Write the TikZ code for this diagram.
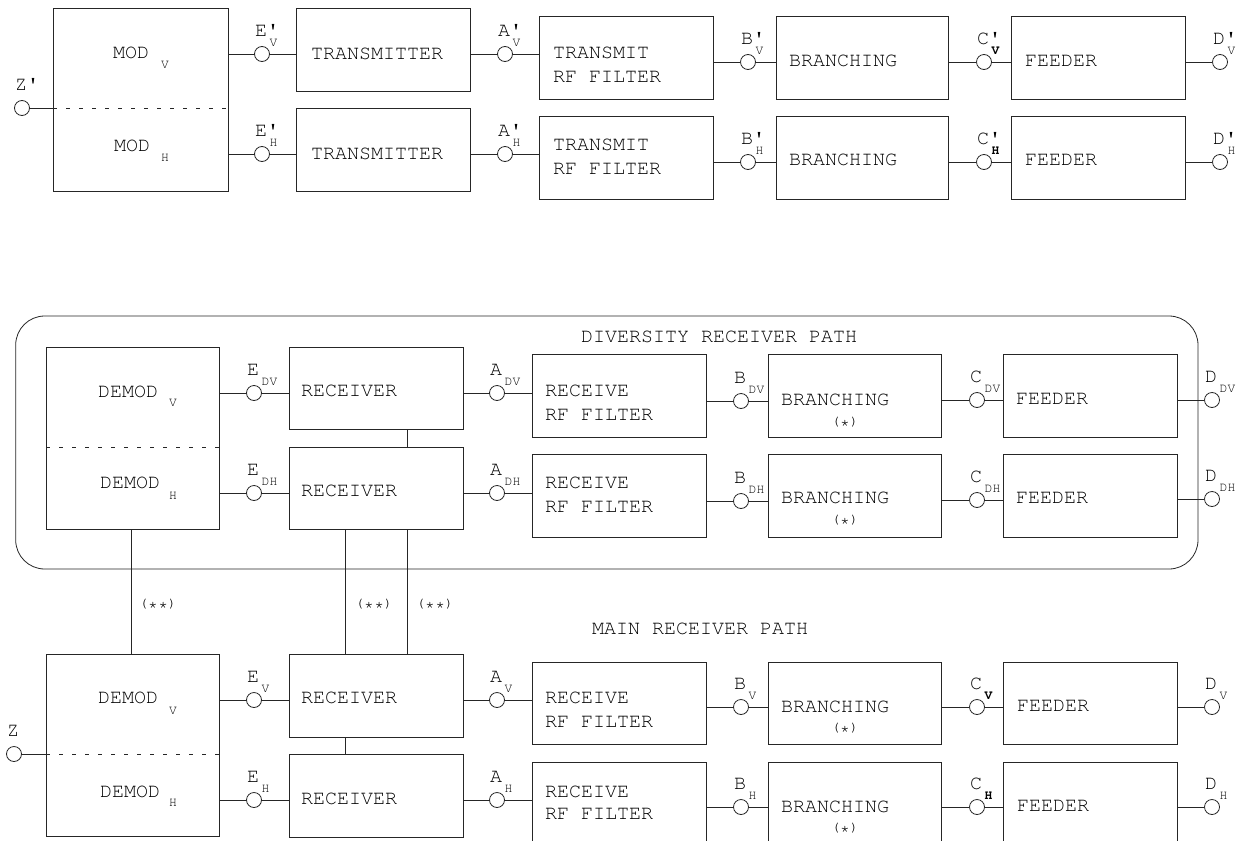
\documentclass[tikz,border=0pt]{standalone}
\usepackage[T1]{fontenc}
\usepackage{courier}
\renewcommand{\familydefault}{\ttdefault}
\usetikzlibrary{calc}
\tikzset{
  lw/.style={line width=0.8pt, draw=black!85},
  blk/.style={lw, rectangle, inner sep=0pt},
  cir/.style={lw, circle, minimum size=15pt, inner sep=0pt},
  txt/.style={inner sep=0pt, font=\fontsize{20}{24}\selectfont},
  subt/.style={inner sep=0pt, font=\fontsize{13}{15}\selectfont},
  startxt/.style={inner sep=0pt, font=\fontsize{14}{16}\selectfont},
  dashln/.style={lw, dash pattern=on 4pt off 9pt},
}
\newcommand{\lowstar}{\raisebox{-2.5pt}{\fontsize{17}{17}\selectfont *}}
\newcommand{\mkbox}[5]{\node[blk, anchor=north west, minimum width=#4pt, minimum height=#5pt] (#1) at (#2,#3) {};}
\newcommand{\cpt}[5]{%
  \node[cir] (#1) at (#2,#3) {};
  \node[txt, anchor=base west] (#1l) at (#2-7,#3-17.8) {#4};
  \node[subt, anchor=base west] (#1s) at (#2+7.5,#3-7.3) {#5};
}
\newcommand{\lnk}[3]{%
  \draw[lw] (#1.east |- #2) -- (#2.west);
  \draw[lw] (#2.east) -- (#3.west |- #2);
}
\begin{document}
\begin{tikzpicture}[x=1pt,y=-1pt]
\useasboundingbox (0,0) rectangle (1243,841);
\clip (0,0) rectangle (1243,841);

% ---------------- transmit side ----------------
\mkbox{bmodT}{53}{8}{175}{183}
\mkbox{btxV}{296}{8}{174}{83}
\mkbox{btxH}{296}{108}{174}{83}
\mkbox{btfV}{539}{16}{174}{83}
\mkbox{btfH}{539}{116}{174}{83}
\mkbox{bbrV}{776}{16}{172}{83}
\mkbox{bbrH}{776}{116}{172}{83}
\mkbox{bfdV}{1011}{16}{174}{83}
\mkbox{bfdH}{1011}{116}{174}{83}

\node[cir] (cZp) at (22,108) {};
\node[txt, anchor=base west] (cZpl) at (15,90.7) {Z\textquotesingle};
\cpt{cEpV}{262}{54}{E\textquotesingle}{V}
\cpt{cEpH}{262}{154}{E\textquotesingle}{H}
\cpt{cApV}{505}{54}{A\textquotesingle}{V}
\cpt{cApH}{505}{154}{A\textquotesingle}{H}
\cpt{cBpV}{748}{62}{B\textquotesingle}{V}
\cpt{cBpH}{748}{162}{B\textquotesingle}{H}
\cpt{cCpV}{984}{62}{C\textquotesingle}{\textbf{V}}
\cpt{cCpH}{984}{162}{C\textquotesingle}{\textbf{H}}
\cpt{cDpV}{1220}{62}{D\textquotesingle}{V}
\cpt{cDpH}{1220}{162}{D\textquotesingle}{H}

\draw[lw] (cZp.east) -- (bmodT.west |- cZp);
\draw[dashln] (bmodT.west |- cZp) -- ++(177,0);
\lnk{bmodT}{cEpV}{btxV}
\lnk{bmodT}{cEpH}{btxH}
\lnk{btxV}{cApV}{btfV}
\lnk{btxH}{cApH}{btfH}
\lnk{btfV}{cBpV}{bbrV}
\lnk{btfH}{cBpH}{bbrH}
\lnk{bbrV}{cCpV}{bfdV}
\lnk{bbrH}{cCpH}{bfdH}
\draw[lw] (bfdV.east |- cDpV) -- (cDpV.west);
\draw[lw] (bfdH.east |- cDpH) -- (cDpH.west);

\node[txt, anchor=base] (tMODV) at (131,58.2) {MOD};
\node[subt, anchor=base] (tMODVs) at (165,68.7) {V};
\node[txt, anchor=base] (tMODH) at (132,151.7) {MOD};
\node[subt, anchor=base] (tMODHs) at (165,161.2) {H};
\node[txt, anchor=base] (tTXV) at (377,59.7) {TRANSMITTER};
\node[txt, anchor=base] (tTXH) at (377,159.7) {TRANSMITTER};
\node[txt, anchor=base west] (tTFV1) at (553,58.7) {TRANSMIT};
\node[txt, anchor=base west] (tTFV2) at (553,82.2) {RF FILTER};
\node[txt, anchor=base west] (tTFH1) at (553,150.7) {TRANSMIT};
\node[txt, anchor=base west] (tTFH2) at (553,174.2) {RF FILTER};
\node[txt, anchor=base west] (tBRV) at (789,66.7) {BRANCHING};
\node[txt, anchor=base west] (tBRH) at (789,165.7) {BRANCHING};
\node[txt, anchor=base west] (tFDV) at (1025,66.7) {FEEDER};
\node[txt, anchor=base west] (tFDH) at (1025,165.7) {FEEDER};

% ---------------- diversity receiver path ----------------
\draw[lw, rounded corners=29pt] (15.7,316) rectangle (1198,569);
\node[txt, anchor=base] (tDIV) at (719,342.7) {DIVERSITY RECEIVER PATH};

\mkbox{bdemD}{46}{347}{173}{182}
\mkbox{brxDV}{289}{347}{174}{82}
\mkbox{brxDH}{289}{447}{174}{82}
\mkbox{brfDV}{532}{354}{174}{83}
\mkbox{brfDH}{532}{454}{174}{83}
\mkbox{bbrDV}{768}{354}{173}{83}
\mkbox{bbrDH}{768}{454}{173}{83}
\mkbox{bfdDV}{1003}{354}{174}{83}
\mkbox{bfdDH}{1003}{454}{174}{83}

\cpt{cEDV}{254}{393}{E}{DV}
\cpt{cEDH}{254}{493}{E}{DH}
\cpt{cADV}{497}{393}{A}{DV}
\cpt{cADH}{497}{493}{A}{DH}
\cpt{cBDV}{741}{401}{B}{DV}
\cpt{cBDH}{741}{501}{B}{DH}
\cpt{cCDV}{977}{400}{C}{DV}
\cpt{cCDH}{977}{500}{C}{DH}
\cpt{cDDV}{1212}{400}{D}{DV}
\cpt{cDDH}{1212}{499}{D}{DH}

\draw[dashln] ($(bdemD.north west)+(0,100)$) -- ++(176,0);
\lnk{bdemD}{cEDV}{brxDV}
\lnk{bdemD}{cEDH}{brxDH}
\lnk{brxDV}{cADV}{brfDV}
\lnk{brxDH}{cADH}{brfDH}
\lnk{brfDV}{cBDV}{bbrDV}
\lnk{brfDH}{cBDH}{bbrDH}
\lnk{bbrDV}{cCDV}{bfdDV}
\lnk{bbrDH}{cCDH}{bfdDH}
\draw[lw] (bfdDV.east |- cDDV) -- (cDDV.west);
\draw[lw] (bfdDH.east |- cDDH) -- (cDDH.west);
\draw[lw] ($(brxDV.south west)+(118,0)$) -- ($(brxDH.north west)+(118,0)$);

\node[txt, anchor=base] (tDDV) at (128,397.7) {DEMOD};
\node[subt, anchor=base] (tDDVs) at (173,406.7) {V};
\node[txt, anchor=base] (tDDH) at (130,488.7) {DEMOD};
\node[subt, anchor=base] (tDDHs) at (173,499.7) {H};
\node[txt, anchor=base west] (tRDV) at (301,396.7) {RECEIVER};
\node[txt, anchor=base west] (tRDH) at (301,496.7) {RECEIVER};
\node[txt, anchor=base west] (tFDV1) at (545,396.7) {RECEIVE};
\node[txt, anchor=base west] (tFDV2) at (545,420.7) {RF FILTER};
\node[txt, anchor=base west] (tFDH1) at (545,488.7) {RECEIVE};
\node[txt, anchor=base west] (tFDH2) at (545,512.7) {RF FILTER};
\node[txt, anchor=base west] (tBDV) at (781,405.7) {BRANCHING};
\node[startxt] (tBDVs) at (845,422) {(\lowstar)};
\node[txt, anchor=base west] (tBDH) at (781,503.7) {BRANCHING};
\node[startxt] (tBDHs) at (845,520) {(\lowstar)};
\node[txt, anchor=base west] (tFeDV) at (1016,404.7) {FEEDER};
\node[txt, anchor=base west] (tFeDH) at (1016,503.7) {FEEDER};

% ---------------- main receiver path ----------------
\node[txt, anchor=base] (tMAIN) at (700,634.7) {MAIN RECEIVER PATH};

\mkbox{bdemM}{46}{654}{173}{182}
\mkbox{brxMV}{289}{654}{174}{83}
\mkbox{brxMH}{289}{754}{174}{83}
\mkbox{brfMV}{532}{662}{174}{82}
\mkbox{brfMH}{532}{762}{174}{83}
\mkbox{bbrMV}{768}{662}{173}{82}
\mkbox{bbrMH}{768}{762}{173}{83}
\mkbox{bfdMV}{1003}{662}{174}{82}
\mkbox{bfdMH}{1003}{762}{174}{83}

\node[cir] (cZ) at (14,754) {};
\node[txt, anchor=base west] (cZl) at (7,736.7) {Z};
\cpt{cEV}{254}{700}{E}{V}
\cpt{cEH}{254}{800}{E}{H}
\cpt{cAV}{497}{700}{A}{V}
\cpt{cAH}{497}{800}{A}{H}
\cpt{cBV}{741}{707}{B}{V}
\cpt{cBH}{741}{807}{B}{H}
\cpt{cCV}{977}{707}{C}{\textbf{V}}
\cpt{cCH}{977}{807}{C}{\textbf{H}}
\cpt{cDV}{1212}{707}{D}{V}
\cpt{cDH}{1212}{807}{D}{H}

\draw[lw] (cZ.east) -- (bdemM.west |- cZ);
\draw[dashln] (bdemM.west |- cZ) -- ++(176,0);
\lnk{bdemM}{cEV}{brxMV}
\lnk{bdemM}{cEH}{brxMH}
\lnk{brxMV}{cAV}{brfMV}
\lnk{brxMH}{cAH}{brfMH}
\lnk{brfMV}{cBV}{bbrMV}
\lnk{brfMH}{cBH}{bbrMH}
\lnk{bbrMV}{cCV}{bfdMV}
\lnk{bbrMH}{cCH}{bfdMH}
\draw[lw] (bfdMV.east |- cDV) -- (cDV.west);
\draw[lw] (bfdMH.east |- cDH) -- (cDH.west);
\draw[lw] ($(brxMV.south west)+(56,0)$) -- ($(brxMH.north west)+(56,0)$);

% links between paths
\draw[lw] ($(bdemD.south west)+(85,0)$) -- ($(bdemM.north west)+(85,0)$);
\draw[lw] ($(brxDH.south west)+(56,0)$) -- ($(brxMV.north west)+(56,0)$);
\draw[lw] ($(brxDH.south west)+(118,0)$) -- ($(brxMV.north west)+(118,0)$);
\node[startxt] (tSS1) at (158,604) {(\lowstar\lowstar)};
\node[startxt] (tSS2) at (374,604) {(\lowstar\lowstar)};
\node[startxt] (tSS3) at (435,604) {(\lowstar\lowstar)};

\node[txt, anchor=base] (tMDV) at (128,703.7) {DEMOD};
\node[subt, anchor=base] (tMDVs) at (173,714.7) {V};
\node[txt, anchor=base] (tMDH) at (130,797.7) {DEMOD};
\node[subt, anchor=base] (tMDHs) at (173,806.7) {H};
\node[txt, anchor=base west] (tRMV) at (301,703.7) {RECEIVER};
\node[txt, anchor=base west] (tRMH) at (301,804.7) {RECEIVER};
\node[txt, anchor=base west] (tFMV1) at (545,703.7) {RECEIVE};
\node[txt, anchor=base west] (tFMV2) at (545,727.7) {RF FILTER};
\node[txt, anchor=base west] (tFMH1) at (545,797.7) {RECEIVE};
\node[txt, anchor=base west] (tFMH2) at (545,819.7) {RF FILTER};
\node[txt, anchor=base west] (tBMV) at (781,712.7) {BRANCHING};
\node[startxt] (tBMVs) at (845,728) {(\lowstar)};
\node[txt, anchor=base west] (tBMH) at (781,812.7) {BRANCHING};
\node[startxt] (tBMHs) at (845,828) {(\lowstar)};
\node[txt, anchor=base west] (tFeMV) at (1017,711.7) {FEEDER};
\node[txt, anchor=base west] (tFeMH) at (1017,811.7) {FEEDER};
\end{tikzpicture}
\end{document}
